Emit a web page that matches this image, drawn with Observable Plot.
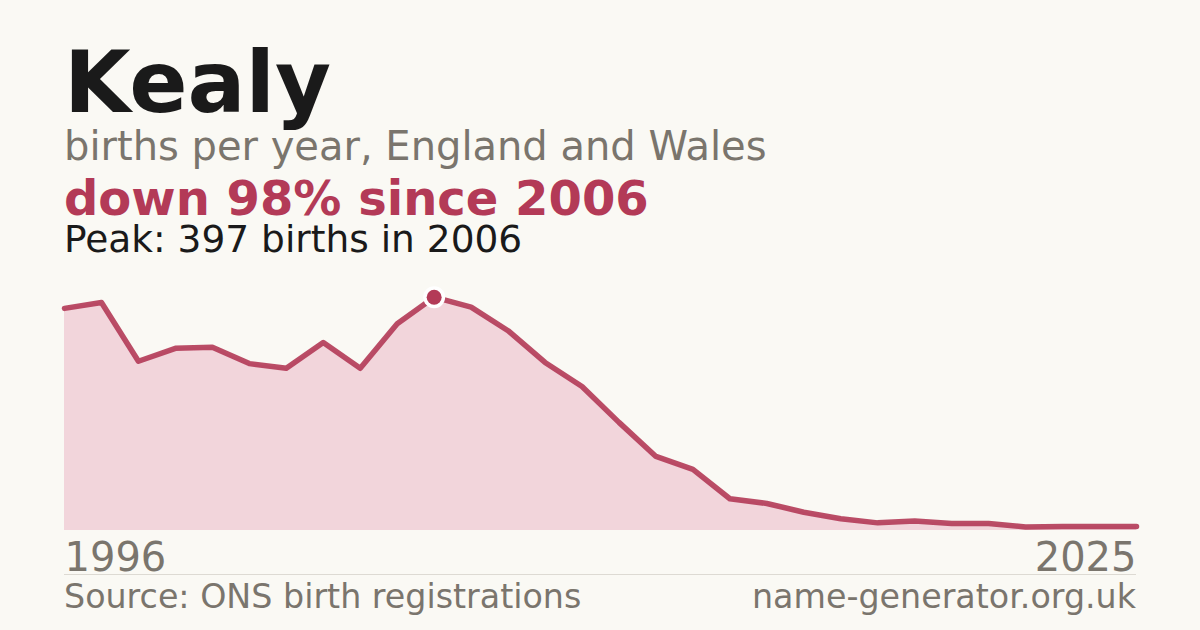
<!DOCTYPE html>
<html>
<head>
<meta charset="utf-8">
<script src="https://cdn.jsdelivr.net/npm/d3@7"></script>
<script src="https://cdn.jsdelivr.net/npm/@observablehq/plot@0.6"></script>
<style>
  html, body { margin: 0; padding: 0; background: #faf9f4; }
  body { width: 1200px; height: 630px; position: relative; overflow: hidden; font-family: "DejaVu Sans", sans-serif; }
  .t { position: absolute; left: 64px; line-height: 0.9; white-space: nowrap; }
  #chart { position: absolute; left: 0; top: 260px; }
  #rule { position: absolute; left: 64px; width: 1072px; top: 574px; height: 1px; background: #dddad3; }
</style>
</head>
<body>
<div class="t" id="title" style="top:43.5px;font-size:86px;font-weight:bold;color:#1a1a1a;">Kealy</div>
<div class="t" id="sub" style="top:127.5px;font-size:40px;color:#7a756d;">births per year, England and Wales</div>
<div class="t" id="change" style="top:176.8px;font-size:48px;font-weight:bold;color:#b33a57;">down 98% since 2006</div>
<div class="t" id="peak" style="top:222.9px;font-size:37.5px;color:#1a1a1a;">Peak: 397 births in 2006</div>
<div id="chart"></div>
<div id="rule"></div>
<div class="t" id="src" style="top:581.8px;font-size:33.3px;color:#7a756d;">Source: ONS birth registrations</div>
<div class="t" id="site" style="top:581.8px;left:auto;right:64px;font-size:33.3px;color:#7a756d;">name-generator.org.uk</div>
<script>
const years = [1996,1997,1998,1999,2000,2001,2002,2003,2004,2005,2006,2007,2008,2009,2010,2011,2012,2013,2014,2015,2016,2017,2018,2019,2020,2021,2022,2023,2024,2025];
const births = [378,388,288,310,312,284,276,320,276,352,397,380,340,286,245,184,126,104,54,46,31,20,13,16,12,12,6,7,7,7];
const axisLabels = [1996, 2025];

const rows = years.map((y, i) => ({year: y, births: births[i]}));
const peakValue = d3.max(births);
const peakRow = rows.filter(d => d.births === peakValue);
const red = "#b33a57";

const chart = Plot.plot({
  width: 1200,
  height: 320,
  marginLeft: 64,
  marginRight: 64,
  marginTop: 36.7,
  marginBottom: 50,
  style: {background: "transparent", fontFamily: "DejaVu Sans, sans-serif", overflow: "visible"},
  x: {domain: [years[0], years[years.length - 1]], axis: null},
  y: {domain: [0, peakValue], axis: null},
  marks: [
    Plot.areaY(rows, {x: "year", y: "births", fill: "#f2d5db"}),
    Plot.line(rows, {x: "year", y: "births", stroke: red, strokeWidth: 5.5, strokeOpacity: 0.9}),
    Plot.dot(peakRow, {x: "year", y: "births", r: 11, fill: "#ffffff", stroke: "none"}),
    Plot.dot(peakRow, {x: "year", y: "births", r: 7.5, fill: red, stroke: "none"}),
    Plot.text([axisLabels[0]], {x: d => d, y: 0, text: d => String(d), textAnchor: "start", lineAnchor: "bottom", dy: 40, fontSize: 40, fill: "#7a756d"}),
    Plot.text([axisLabels[1]], {x: d => d, y: 0, text: d => String(d), textAnchor: "end", lineAnchor: "bottom", dy: 40, fontSize: 40, fill: "#7a756d"})
  ]
});
document.getElementById("chart").appendChild(chart);
</script>
</body>
</html>
